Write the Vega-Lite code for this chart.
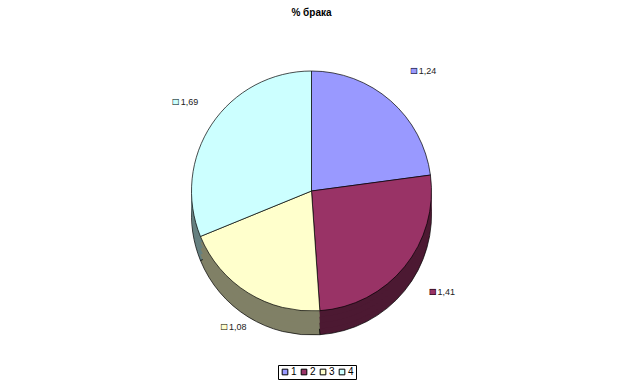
{
  "$schema": "https://vega.github.io/schema/vega-lite/v6.json",
  "width": 623,
  "height": 388,
  "autosize": {"type": "fit", "contains": "padding"},
  "padding": {"top": 8, "bottom": 6, "left": 0, "right": 0},
  "background": "white",
  "title": {"text": "% брака", "font": "Liberation Sans", "fontSize": 10, "fontWeight": "bold", "color": "black", "offset": 10},
  "data": {"values": [
    {"k": "1", "v": 1.24, "lbl": "1,24"},
    {"k": "2", "v": 1.41, "lbl": "1,41"},
    {"k": "3", "v": 1.08, "lbl": "1,08"},
    {"k": "4", "v": 1.69, "lbl": "1,69"}
  ]},
  "encoding": {
    "theta": {"field": "v", "type": "quantitative", "stack": true},
    "order": {"field": "k", "type": "ordinal"}
  },
  "layer": [
    {"mark": {"type": "arc", "outerRadius": 120, "yOffset": 10, "stroke": "black", "strokeWidth": 0.7},
     "encoding": {"color": {"field": "k", "type": "nominal", "legend": null, "scale": {"domain": ["1","2","3","4"], "range": ["#4d4d80", "#4c1932", "#808066", "#668080"]}}}},
    {"mark": {"type": "arc", "outerRadius": 120, "yOffset": 4},
     "encoding": {"color": {"field": "k", "type": "nominal", "legend": null, "scale": {"domain": ["1","2","3","4"], "range": ["#4d4d80", "#4c1932", "#808066", "#668080"]}}}},
    {"mark": {"type": "arc", "outerRadius": 120, "yOffset": -2},
     "encoding": {"color": {"field": "k", "type": "nominal", "legend": null, "scale": {"domain": ["1","2","3","4"], "range": ["#4d4d80", "#4c1932", "#808066", "#668080"]}}}},
    {"mark": {"type": "arc", "outerRadius": 120, "yOffset": -8},
     "encoding": {"color": {"field": "k", "type": "nominal", "legend": null, "scale": {"domain": ["1","2","3","4"], "range": ["#4d4d80", "#4c1932", "#808066", "#668080"]}}}},
    {"mark": {"type": "arc", "outerRadius": 120, "yOffset": -14, "stroke": "black", "strokeWidth": 0.7},
     "encoding": {"color": {"field": "k", "type": "nominal",
       "scale": {"domain": ["1","2","3","4"], "range": ["#9999ff", "#993366", "#ffffcc", "#ccffff"]},
       "legend": {"title": null, "orient": "none", "legendX": 278, "legendY": 337, "direction": "horizontal", "strokeColor": "black", "padding": 2, "symbolType": "square", "symbolSize": 32, "symbolStrokeColor": "black", "symbolStrokeWidth": 1, "labelFont": "Liberation Sans", "labelFontSize": 10, "labelColor": "black", "columnPadding": 2, "labelOffset": 1}}}},
    {"mark": {"type": "text", "radius": 160, "font": "Liberation Sans", "fontSize": 9, "align": "left", "dx": 2, "yOffset": -14, "color": "#222"},
     "encoding": {"text": {"field": "lbl"}}},
    {"mark": {"type": "text", "radius": 160, "font": "DejaVu Sans", "fontSize": 8, "align": "right", "dx": 1, "yOffset": -14},
     "encoding": {"text": {"value": "■"}, "color": {"field": "k", "type": "nominal", "legend": null, "scale": {"domain": ["1","2","3","4"], "range": ["#9999ff", "#993366", "#ffffcc", "#ccffff"]}}}},
    {"mark": {"type": "text", "radius": 160, "font": "DejaVu Sans", "fontSize": 8, "align": "right", "dx": 1, "yOffset": -14, "color": "black"},
     "encoding": {"text": {"value": "□"}}}
  ],
  "resolve": {"scale": {"color": "independent"}},
  "config": {"view": {"stroke": null}}
}
